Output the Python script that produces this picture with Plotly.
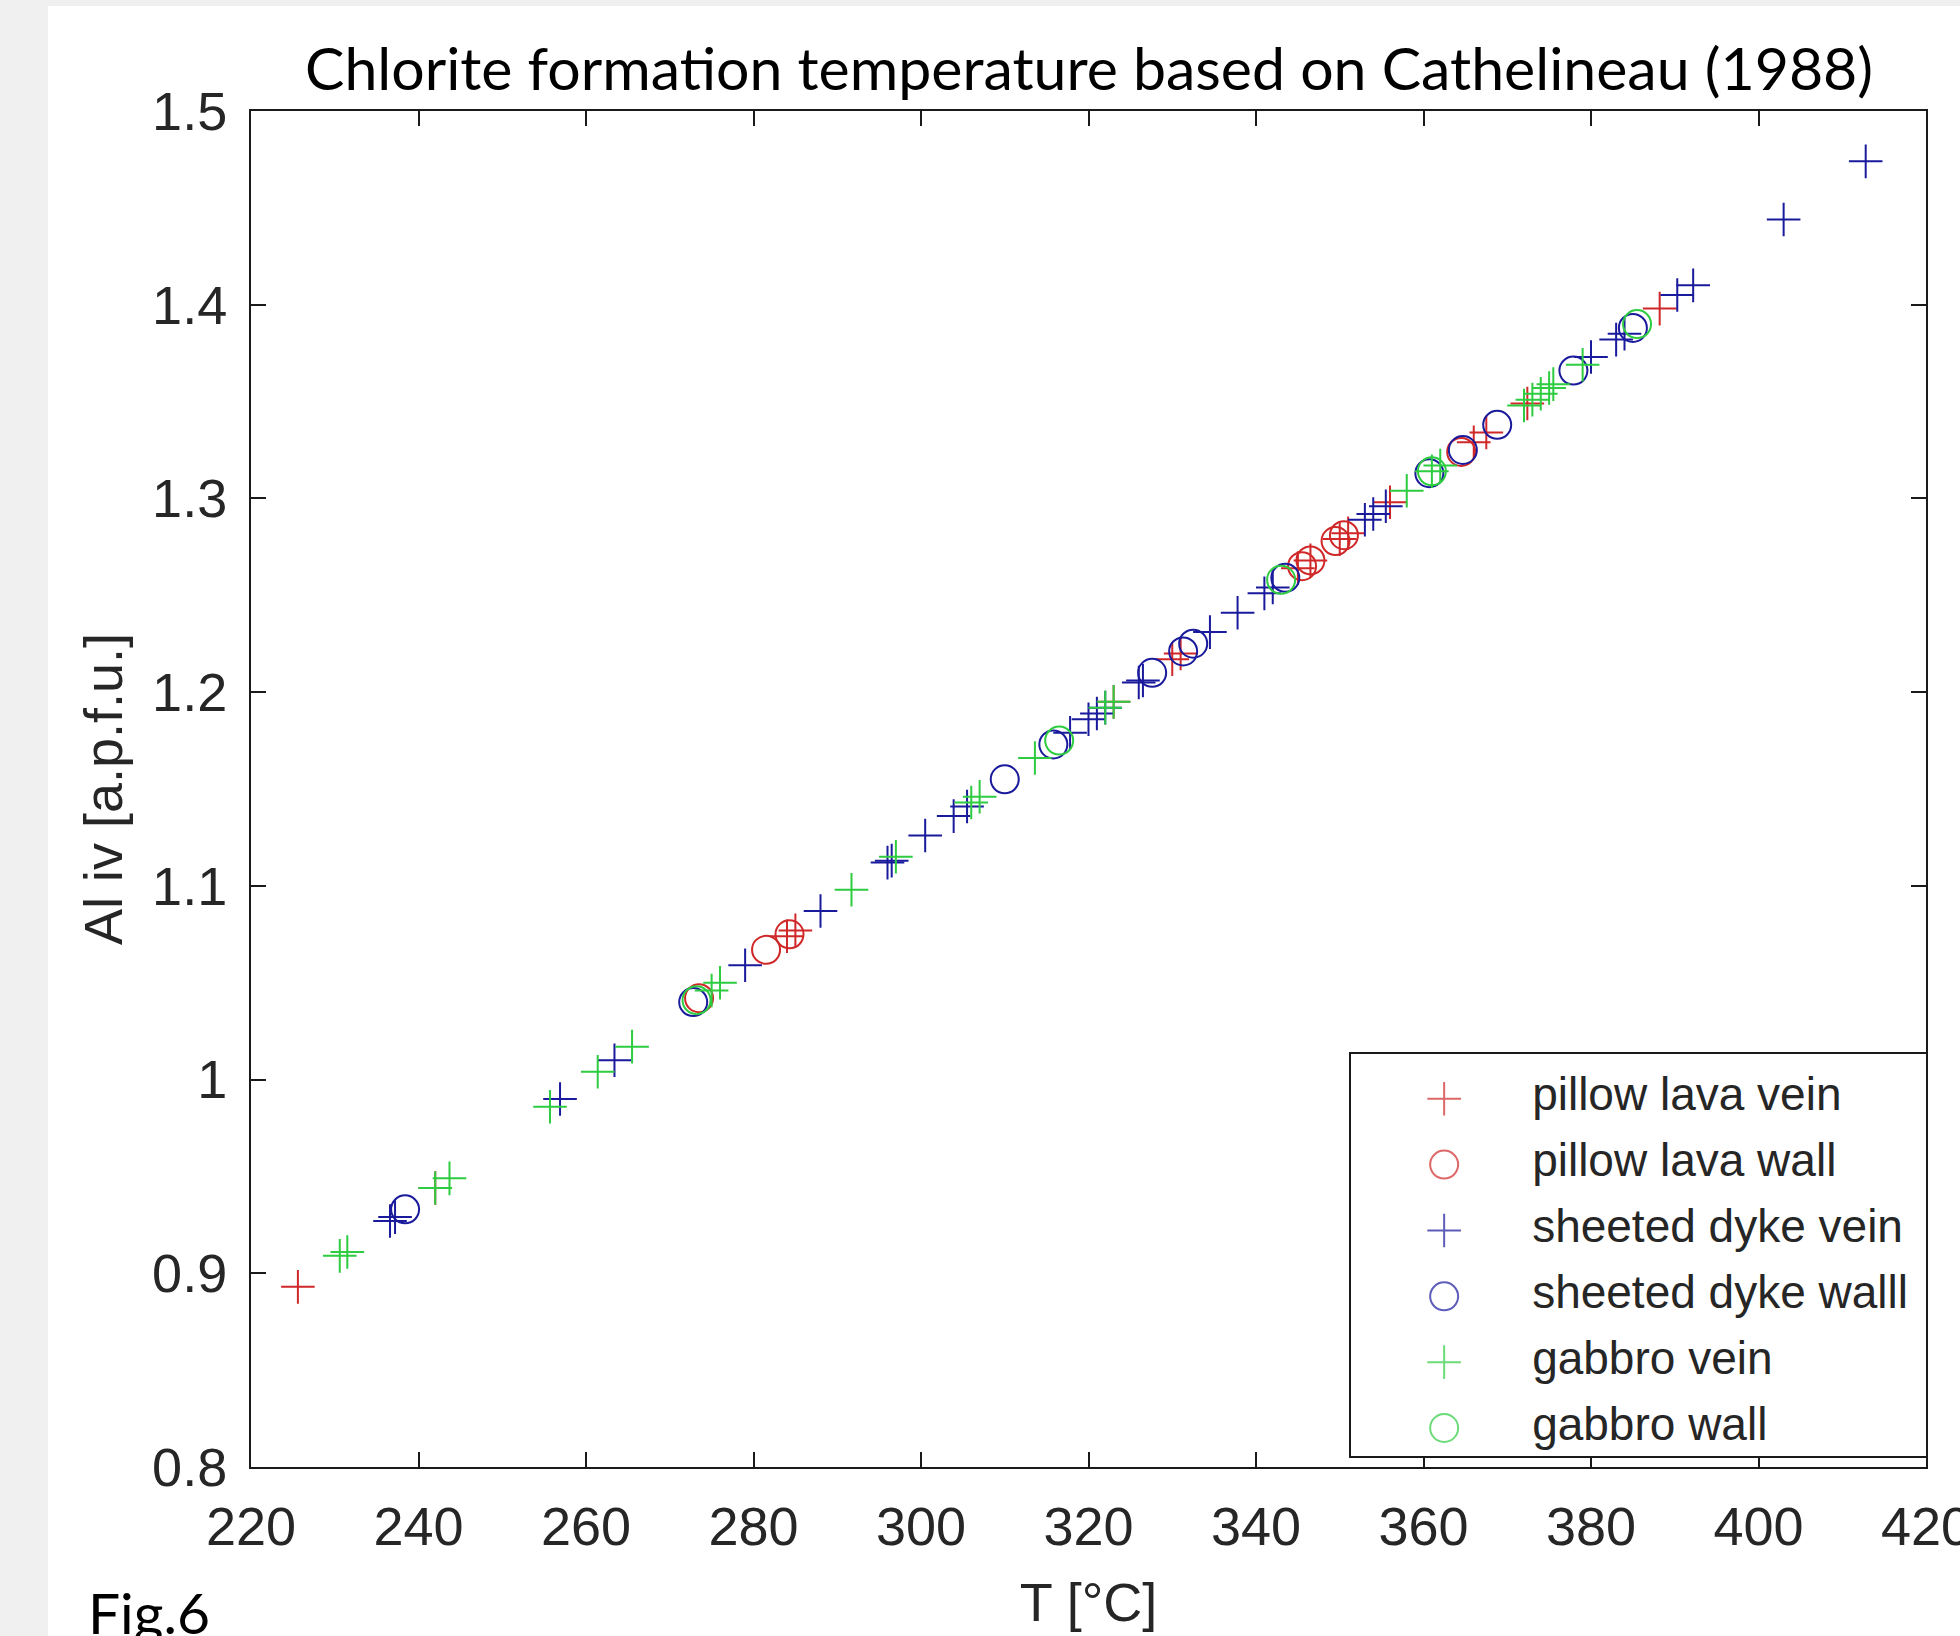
import plotly.graph_objects as go

# ---------------- data ----------------
T_pillow_vein = [225.6, 242.0, 284.0, 285.0, 323.0, 330.0, 331.0, 345.0, 346.5, 350.0,
                 351.0, 356.0, 366.0, 367.5, 372.4, 388.2]
Al_pillow_vein = [0.893, 0.944, 1.074, 1.077, 1.195, 1.217, 1.220, 1.264, 1.268, 1.279,
                  1.282, 1.298, 1.329, 1.334, 1.349, 1.398]

T_pillow_wall = [273.5, 281.5, 284.3, 345.5, 346.5, 349.5, 350.5, 364.5]
Al_pillow_wall = [1.042, 1.067, 1.075, 1.265, 1.268, 1.278, 1.281, 1.324]

T_dyke_vein = [236.6, 237.2, 256.9, 263.4, 279.0, 288.0, 296.0, 296.5, 300.5, 303.9,
               305.5, 317.8, 320.0, 321.0, 322.0, 326.0, 326.5, 334.5, 337.8, 341.0,
               342.0, 353.0, 354.0, 355.5, 380.0, 383.0, 384.0, 390.3, 392.2, 403.0, 412.8]
Al_dyke_vein = [0.927, 0.929, 0.990, 1.010, 1.059, 1.087, 1.112, 1.113, 1.126, 1.136,
                1.141, 1.179, 1.186, 1.189, 1.192, 1.205, 1.206, 1.231, 1.241, 1.251,
                1.254, 1.289, 1.292, 1.296, 1.373, 1.382, 1.385, 1.405, 1.410, 1.444, 1.474]

T_dyke_wall = [238.4, 272.8, 310.0, 315.8, 327.6, 331.3, 332.5, 343.5, 360.7, 364.7,
               368.8, 377.9, 385.0]
Al_dyke_wall = [0.933, 1.040, 1.155, 1.173, 1.210, 1.221, 1.225, 1.259, 1.313, 1.325,
                1.338, 1.366, 1.388]

T_gabbro_vein = [230.6, 231.5, 242.0, 243.7, 255.7, 261.4, 265.5, 275.0, 276.0, 291.7,
                 297.0, 306.0, 307.0, 313.6, 322.0, 323.0, 358.0, 361.0, 362.0, 372.0,
                 373.0, 374.0, 375.0, 375.5, 379.0]
Al_gabbro_vein = [0.909, 0.911, 0.944, 0.949, 0.986, 1.004, 1.017, 1.046, 1.050, 1.098,
                  1.115, 1.143, 1.146, 1.166, 1.192, 1.195, 1.304, 1.314, 1.317, 1.348,
                  1.351, 1.354, 1.357, 1.359, 1.369]

T_gabbro_wall = [273.2, 316.5, 343.0, 361.0, 385.5]
Al_gabbro_wall = [1.041, 1.175, 1.258, 1.314, 1.390]

series_names = ["pillow lava vein", "pillow lava wall", "sheeted dyke vein",
                "sheeted dyke walll", "gabbro vein", "gabbro wall"]

x_ticks = [220, 240, 260, 280, 300, 320, 340, 360, 380, 400, 420]
y_ticks = [0.8, 0.9, 1.0, 1.1, 1.2, 1.3, 1.4, 1.5]
y_tick_text = ["0.8", "0.9", "1", "1.1", "1.2", "1.3", "1.4", "1.5"]

# ---------------- styling ----------------
RED = "#d02828"
BLUE = "#1a1a9c"
GREEN = "#2ecc40"
CROSS = "cross-thin"
CIRC = "circle-open"
CROSS_SIZE = 24
CIRC_SIZE = 28

styles = [(CROSS, RED), (CIRC, RED), (CROSS, BLUE), (CIRC, BLUE), (CROSS, GREEN), (CIRC, GREEN)]
data = [(T_pillow_vein, Al_pillow_vein), (T_pillow_wall, Al_pillow_wall),
        (T_dyke_vein, Al_dyke_vein), (T_dyke_wall, Al_dyke_wall),
        (T_gabbro_vein, Al_gabbro_vein), (T_gabbro_wall, Al_gabbro_wall)]

W, H = 1960, 1636
ML, MR, MT, MB = 251, 34, 111, 169
PW = W - ML - MR
PH = H - MT - MB

SANS = "Liberation Sans, Arial, sans-serif"
TICK_FONT = dict(family=SANS, size=54, color="#262626")
TXT_COLOR = "#262626"

fig = go.Figure()

for name, (xs, ys), (sym, col) in zip(series_names, data, styles):
    fig.add_trace(go.Scatter(
        x=xs, y=ys, mode="markers", name=name, showlegend=False,
        marker=dict(symbol=sym, size=CROSS_SIZE if sym == CROSS else CIRC_SIZE,
                    color=col, line=dict(color=col, width=2)),
    ))

# legend drawn as a small boxed subplot
leg_x0_px, leg_x1_px = 1351, 1926
leg_y0_px, leg_y1_px = 1054, 1456
fig.add_trace(go.Scatter(
    x=[0.162] * len(series_names), y=series_names, xaxis="x2", yaxis="y2",
    mode="markers", showlegend=False, hoverinfo="skip",
    marker=dict(symbol=[s for s, _ in styles],
                size=[CROSS_SIZE if s == CROSS else CIRC_SIZE for s, _ in styles],
                color=[c for _, c in styles],
                line=dict(color=[c for _, c in styles], width=2)),
))
fig.add_trace(go.Scatter(
    x=[0.315] * len(series_names), y=series_names, xaxis="x2", yaxis="y2",
    mode="text", text=series_names, textposition="middle right", showlegend=False,
    hoverinfo="skip",
    textfont=dict(family=SANS, size=46, color=TXT_COLOR),
))

axis_common = dict(showgrid=False, zeroline=False, showline=True, linecolor="#1a1a1a",
                   linewidth=2, mirror="ticks", ticks="inside", ticklen=15, tickwidth=2,
                   tickcolor="#1a1a1a", tickfont=TICK_FONT, automargin=False,
                   ticklabeloverflow="allow")

fig.update_layout(
    width=W, height=H,
    margin=dict(l=ML, r=MR, t=MT, b=MB, pad=0),
    paper_bgcolor="white", plot_bgcolor="white",
    showlegend=False,
    xaxis=dict(range=[220, 420], tickvals=x_ticks,
               title=dict(text="T [°C]", font=dict(family=SANS, size=54, color=TXT_COLOR),
                          standoff=28),
               ticklabelstandoff=11, **axis_common),
    yaxis=dict(range=[0.8, 1.5], tickvals=y_ticks, ticktext=y_tick_text,
               title=dict(text="Al iv [a.p.f.u.]", font=dict(family=SANS, size=54, color=TXT_COLOR),
                          standoff=12),
               ticklabelstandoff=11, **axis_common),
    xaxis2=dict(domain=[(leg_x0_px - ML) / PW, (leg_x1_px - ML) / PW], range=[0, 1],
                anchor="y2", showgrid=False, zeroline=False, showticklabels=False,
                showline=True, mirror=True, linecolor="#1a1a1a", linewidth=2, ticks="",
                fixedrange=True),
    yaxis2=dict(domain=[(MT + PH - leg_y1_px) / PH, (MT + PH - leg_y0_px) / PH],
                type="category", categoryarray=series_names, range=[5.425, -0.68],
                anchor="x2", showgrid=False, zeroline=False, showticklabels=False,
                showline=True, mirror=True, linecolor="#1a1a1a", linewidth=2, ticks="",
                fixedrange=True),
    shapes=[
        dict(type="rect", xref="paper", yref="paper", layer="below",
             x0=-ML / PW, x1=(48 - ML) / PW, y0=-MB / PH, y1=1 + MT / PH,
             fillcolor="#f0f0f0", line=dict(width=0)),
        dict(type="rect", xref="paper", yref="paper", layer="below",
             x0=-ML / PW, x1=1 + MR / PW, y0=1 + (MT - 6) / PH, y1=1 + MT / PH,
             fillcolor="#f0f0f0", line=dict(width=0)),
    ],
    annotations=[
        dict(text="Chlorite formation temperature based on Cathelineau (1988)",
             xref="paper", yref="paper", x=0.5, y=1, xanchor="center", yanchor="bottom",
             yshift=6, showarrow=False,
             font=dict(family="Lato, sans-serif", size=59, color="black")),
        dict(text="Fig.6", xref="paper", yref="paper", x=(86 - ML) / PW, y=-MB / PH,
             xanchor="left", yanchor="bottom", yshift=-12, showarrow=False,
             font=dict(family="Lato, sans-serif", size=57, color="black")),
    ],
)

fig.write_html("out.html", config={"displayModeBar": False},
               post_script="document.body.style.margin='0';")
